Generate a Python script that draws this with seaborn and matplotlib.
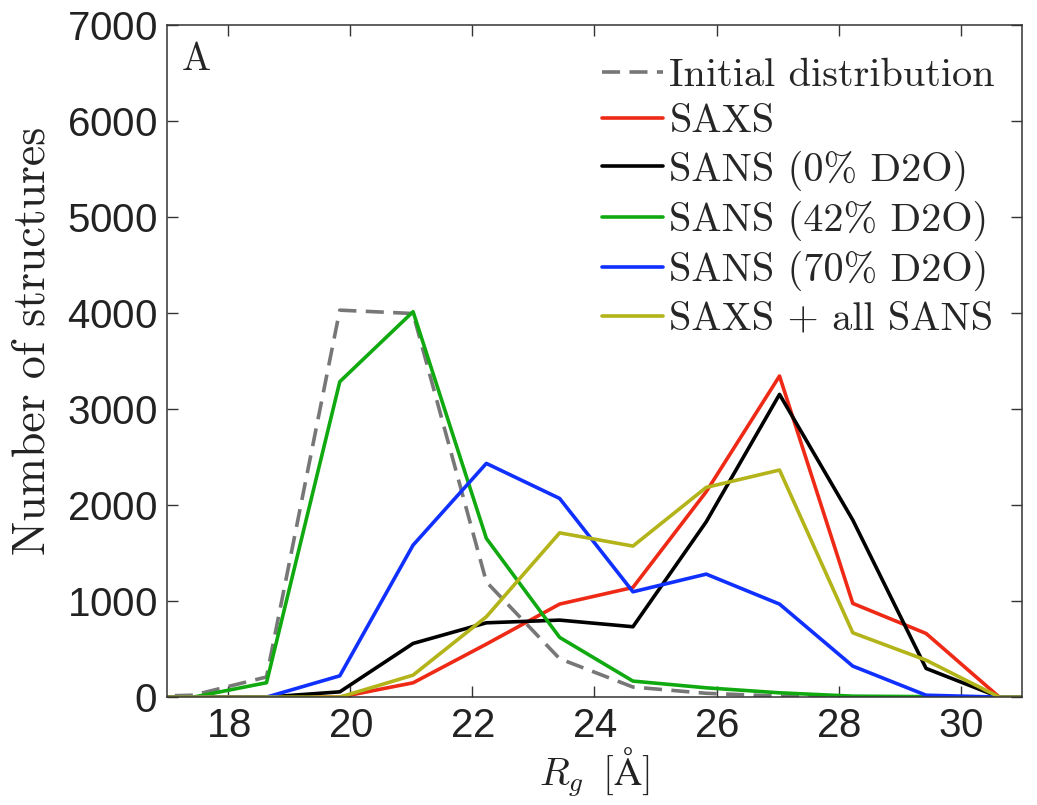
import numpy as np
import pandas as pd
import matplotlib
matplotlib.use("Agg")
import matplotlib.pyplot as plt
import seaborn as sns

# Bin centres (Rg, Å)
rg = [16.23, 17.43, 18.63, 19.83, 21.03, 22.23, 23.43, 24.63, 25.83, 27.03, 28.23, 29.43, 30.63, 31.83]

initial   = [0, 20, 210, 4030, 3995, 1200, 400, 105, 40, 10, 0, 0, 0, 0]
saxs      = [0, 0, 0, 0, 149, 552, 969, 1142, 2139, 3344, 976, 663, 0, 0]
sans0     = [0, 0, 0, 55, 559, 774, 802, 733, 1826, 3153, 1844, 299, 0, 0]
sans42    = [0, 0, 150, 3285, 4014, 1653, 622, 167, 97, 45, 10, 5, 0, 0]
sans70    = [0, 0, 0, 222, 1583, 2434, 2069, 1097, 1281, 969, 323, 20, 0, 0]
combined  = [0, 0, 0, 0, 229, 837, 1711, 1573, 2184, 2365, 670, 385, 0, 0]

labels = ['Initial distribution', 'SAXS', 'SANS (0% D2O)', 'SANS (42% D2O)',
          'SANS (70% D2O)', 'SAXS + all SANS']
colors = ['#777777', '#ee2a16', '#000000', '#10aa10', '#1030ff', '#b3b31a']
series = [initial, saxs, sans0, sans42, sans70, combined]

sns.set_style('ticks')
plt.rcParams['font.family'] = ['Liberation Sans', 'DejaVu Sans']
plt.rcParams['mathtext.fontset'] = 'cm'
plt.rcParams['axes.formatter.use_mathtext'] = True
cm_font = {'family': 'cmr10'}

fig = plt.figure(figsize=(10.37, 8.05), dpi=100)
ax = fig.add_axes([0.161, 0.134, 0.8245, 0.835])

LW = 2.6
for ys, lab, col in zip(series, labels, colors):
    df = pd.DataFrame({'rg': rg, 'n': ys})
    sns.lineplot(data=df, x='rg', y='n', color=col, label=lab, ax=ax,
                 linewidth=LW, estimator=None)
ax.lines[0].set_dashes([5.0, 2.6])

ax.set_xlim(17, 31)
ax.set_ylim(0, 7000)
ax.set_xticks([18, 20, 22, 24, 26, 28, 30])
ax.set_yticks(range(0, 7001, 1000))
ax.tick_params(direction='in', length=8, width=1, labelsize=29,
               top=True, right=True, colors='#333333', labelcolor='#222222', pad=7)
for s in ax.spines.values():
    s.set_visible(True)
    s.set_color('#333333')
    s.set_linewidth(1.1)

ax.set_xlabel(r'$R_g\;\;[\mathrm{\AA}]$', fontsize=28, color='#222222', labelpad=0)
ax.set_ylabel('Number of structures', fontdict=cm_font, fontsize=33,
              color='#222222')
ax.yaxis.set_label_coords(-0.133, 0.53)

ax.text(0.017, 0.975, 'A', transform=ax.transAxes, fontsize=28, fontdict=cm_font,
        va='top', ha='left')

leg = ax.legend(loc='upper right', bbox_to_anchor=(0.978, 0.963), frameon=False,
                handlelength=1.5, handletextpad=0.17, labelspacing=0.25,
                borderaxespad=0.0, borderpad=0.2,
                prop={'family': 'cmr10', 'size': 29})
for h in leg.get_lines():
    h.set_linewidth(LW)
leg.get_lines()[0].set_dashes([5.0, 2.6])

fig.savefig('out.png', dpi=100)
